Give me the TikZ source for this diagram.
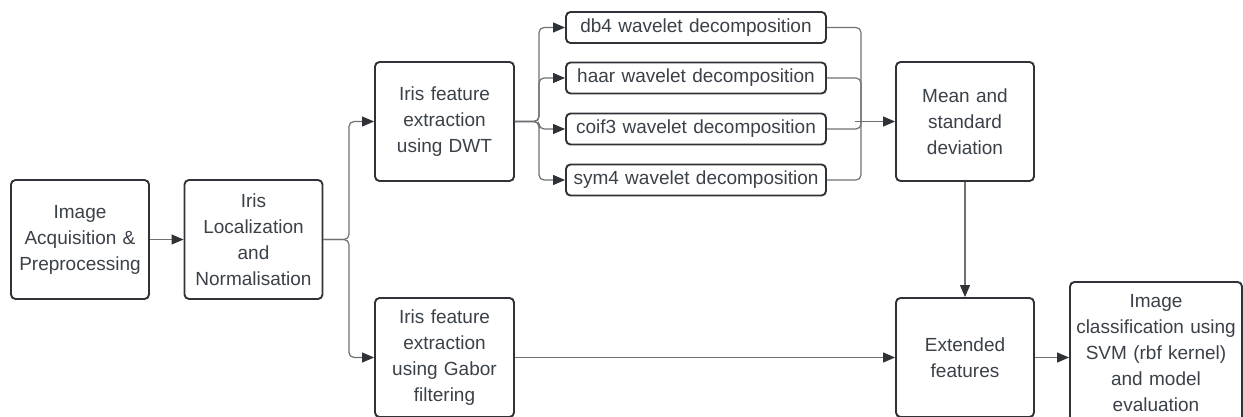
\documentclass[tikz,border=0pt]{standalone}
\usepackage{fontspec}
\setmainfont{Liberation Sans}
\usetikzlibrary{arrows.meta,calc}
\definecolor{edge}{HTML}{2F3338}
\definecolor{ink}{HTML}{3B4148}
\definecolor{wire}{HTML}{6E7073}
\tikzset{
  stepbox/.style={draw=edge, line width=1.9pt, rounded corners=4.5pt, fill=white,
    text=ink, inner sep=0pt, align=center,
    font=\fontsize{19}{26}\selectfont},
  bigbox/.style={stepbox, minimum width=138pt, minimum height=119pt, text width=128pt},
  wavebox/.style={stepbox, minimum width=260pt, minimum height=31pt, text width=255pt},
  wire/.style={draw=wire, line width=1.2pt, rounded corners=5pt,
    -{Triangle[length=12pt,width=10pt,color=edge]}},
  joint/.style={draw=wire, line width=1.2pt, rounded corners=5pt}
}
\begin{document}
\begin{tikzpicture}[x=1pt,y=-1pt]
\useasboundingbox (0,0) rectangle (1243,417);

% processing stages
\node[bigbox] (acq)  at (80,239.5)   {Image\\Acquisition \&\\Preprocessing};
\node[bigbox] (loc)  at (253.5,239.5) {Iris\\Localization\\and\\Normalisation};
\node[bigbox, minimum width=139pt] (dwt)  at (444.5,121.5) {Iris feature\\extraction\\using DWT};
\node[bigbox, minimum width=139pt] (gab)  at (444.5,357.5) {Iris feature\\extraction\\using Gabor\\filtering};

% wavelet families
\node[wavebox] (db4)  at (696,27.5) {db4 wavelet decomposition};
\node[wavebox] (haar) at (696,78)   {haar wavelet decomposition};
\node[wavebox] (coif) at (696,129)  {coif3 wavelet decomposition};
\node[wavebox] (sym)  at (696,180)  {sym4 wavelet decomposition};

\node[bigbox] (mean) at (965,121.5) {Mean and\\standard\\deviation};
\node[bigbox] (ext)  at (965,357.5) {Extended\\features};
\node[bigbox, minimum width=172pt, minimum height=142pt, text width=166pt] (cls) at (1156,353)
  {Image\\classification using\\SVM (rbf kernel)\\and model\\evaluation};

% branching and merging points
\coordinate (bj) at (349,239.5);
\coordinate (dj) at (539,121.5);
\coordinate (mj) at (861,121.5);

% connectors
\draw[wire] (acq.east) -- (loc.west);
\draw[wire] (loc.east) -- (bj) |- (dwt.west);
\draw[wire] (loc.east) -- (bj) |- (gab.west);

\draw[wire] (dwt.east) -- (dj) |- (db4.west);
\draw[wire] (dwt.east) -- (dj) |- (haar.west);
\draw[wire] (dwt.east) -- (dj) |- (coif.west);
\draw[wire] (dwt.east) -- (dj) |- (sym.west);

\draw[joint] (db4.east)  -| (mj);
\draw[joint] (sym.east)  -| (mj);
\draw[joint] (haar.east) -| (mj);
\draw[joint] (coif.east) -| (mj);
\draw[wire] ($(mj)+(-6,0)$) -- (mean.west);

\draw[wire] (mean.south) -- (ext.north);
\draw[wire] (gab.east) -- (ext.west);
\draw[wire] (ext.east) -- (ext.east -| cls.west);
\end{tikzpicture}
\end{document}
